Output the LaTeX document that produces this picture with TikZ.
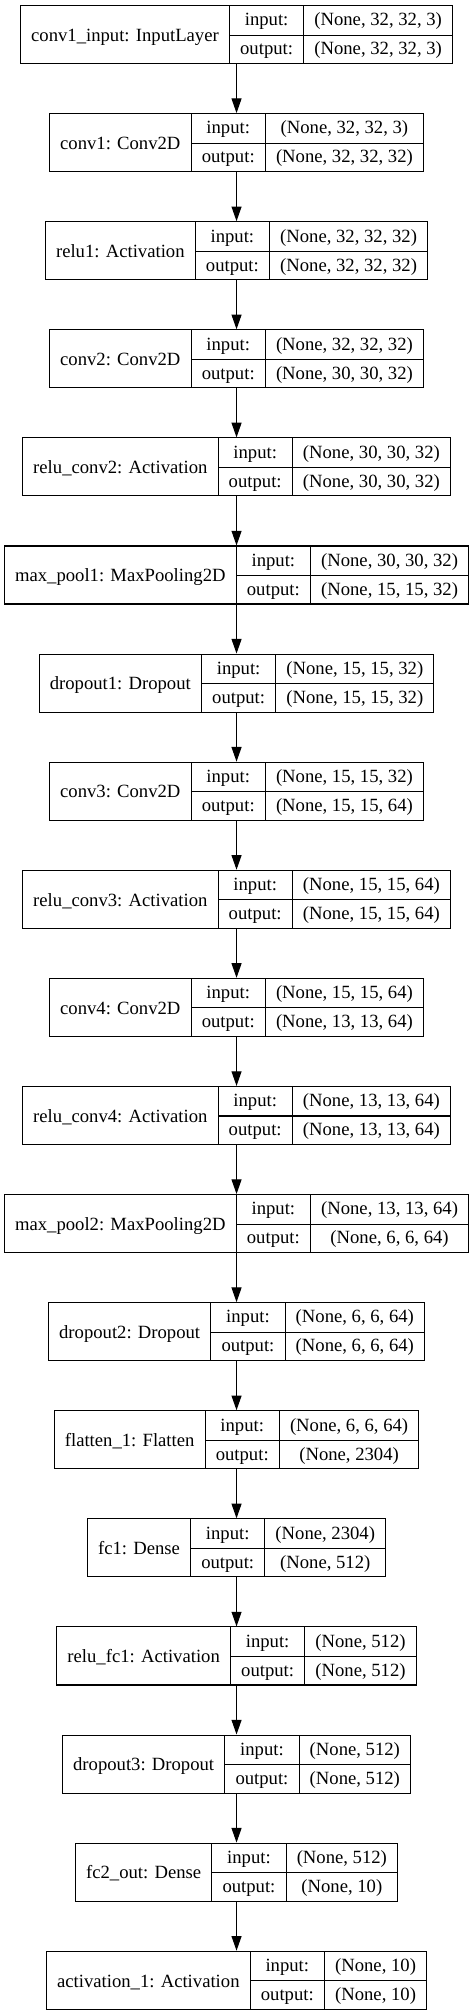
\documentclass[tikz,border=0pt]{standalone}
\usepackage{fontspec}
\setmainfont{Liberation Serif}
\usetikzlibrary{positioning, arrows.meta}
\tikzstyle{layer}=[draw, line width=0.8pt, inner sep=0pt, font=\fontsize{14}{17}\selectfont]
\tikzstyle{feed}=[{Triangle[length=11pt, width=7.5pt]}-, line width=0.8pt]
\setlength{\tabcolsep}{8pt}
\setlength{\arrayrulewidth}{0.8pt}
\renewcommand{\arraystretch}{1.28}
% label cell spans both rows: lowered by hand
\newcommand{\rec}[3]{\begin{tabular}{c|c|c}
  \raisebox{-11.6pt}[0pt][0pt]{#1} & input: & #2\\ \cline{2-3}
  & output: & #3
\end{tabular}}

\begin{document}
\begin{tikzpicture}[node distance=36.75pt]
  \useasboundingbox (0,0) rectangle (354.75pt,-1511.25pt);

  \node[layer, anchor=north] (input) at (177.4pt,-3.75pt)
  {\rec{conv1\_input: InputLayer}{(None, 32, 32, 3)}{(None, 32, 32, 3)}};
  \node[layer] (conv1) [below=of input]
  {\rec{conv1: Conv2D}{(None, 32, 32, 3)}{(None, 32, 32, 32)}}
  edge[feed] (input);
  \node[layer] (relu1) [below=of conv1]
  {\rec{relu1: Activation}{(None, 32, 32, 32)}{(None, 32, 32, 32)}}
  edge[feed] (conv1);
  \node[layer] (conv2) [below=of relu1]
  {\rec{conv2: Conv2D}{(None, 32, 32, 32)}{(None, 30, 30, 32)}}
  edge[feed] (relu1);
  \node[layer] (relu2) [below=of conv2]
  {\rec{relu\_conv2: Activation}{(None, 30, 30, 32)}{(None, 30, 30, 32)}}
  edge[feed] (conv2);
  \node[layer] (pool1) [below=of relu2]
  {\rec{max\_pool1: MaxPooling2D}{(None, 30, 30, 32)}{(None, 15, 15, 32)}}
  edge[feed] (relu2);
  \node[layer] (drop1) [below=of pool1]
  {\rec{dropout1: Dropout}{(None, 15, 15, 32)}{(None, 15, 15, 32)}}
  edge[feed] (pool1);

  \node[layer] (conv3) [below=of drop1]
  {\rec{conv3: Conv2D}{(None, 15, 15, 32)}{(None, 15, 15, 64)}}
  edge[feed] (drop1);
  \node[layer] (relu3) [below=of conv3]
  {\rec{relu\_conv3: Activation}{(None, 15, 15, 64)}{(None, 15, 15, 64)}}
  edge[feed] (conv3);
  \node[layer] (conv4) [below=of relu3]
  {\rec{conv4: Conv2D}{(None, 15, 15, 64)}{(None, 13, 13, 64)}}
  edge[feed] (relu3);
  \node[layer] (relu4) [below=of conv4]
  {\rec{relu\_conv4: Activation}{(None, 13, 13, 64)}{(None, 13, 13, 64)}}
  edge[feed] (conv4);
  \node[layer] (pool2) [below=of relu4]
  {\rec{max\_pool2: MaxPooling2D}{(None, 13, 13, 64)}{(None, 6, 6, 64)}}
  edge[feed] (relu4);
  \node[layer] (drop2) [below=of pool2]
  {\rec{dropout2: Dropout}{(None, 6, 6, 64)}{(None, 6, 6, 64)}}
  edge[feed] (pool2);

  \node[layer] (flat) [below=of drop2]
  {\rec{flatten\_1: Flatten}{(None, 6, 6, 64)}{(None, 2304)}}
  edge[feed] (drop2);
  \node[layer] (fc1) [below=of flat]
  {\rec{fc1: Dense}{(None, 2304)}{(None, 512)}}
  edge[feed] (flat);
  \node[layer] (relufc) [below=of fc1]
  {\rec{relu\_fc1: Activation}{(None, 512)}{(None, 512)}}
  edge[feed] (fc1);
  \node[layer] (drop3) [below=of relufc]
  {\rec{dropout3: Dropout}{(None, 512)}{(None, 512)}}
  edge[feed] (relufc);
  \node[layer] (fc2) [below=of drop3]
  {\rec{fc2\_out: Dense}{(None, 512)}{(None, 10)}}
  edge[feed] (drop3);
  \node[layer] (act) [below=of fc2]
  {\rec{activation\_1: Activation}{(None, 10)}{(None, 10)}}
  edge[feed] (fc2);

\end{tikzpicture}
\end{document}
